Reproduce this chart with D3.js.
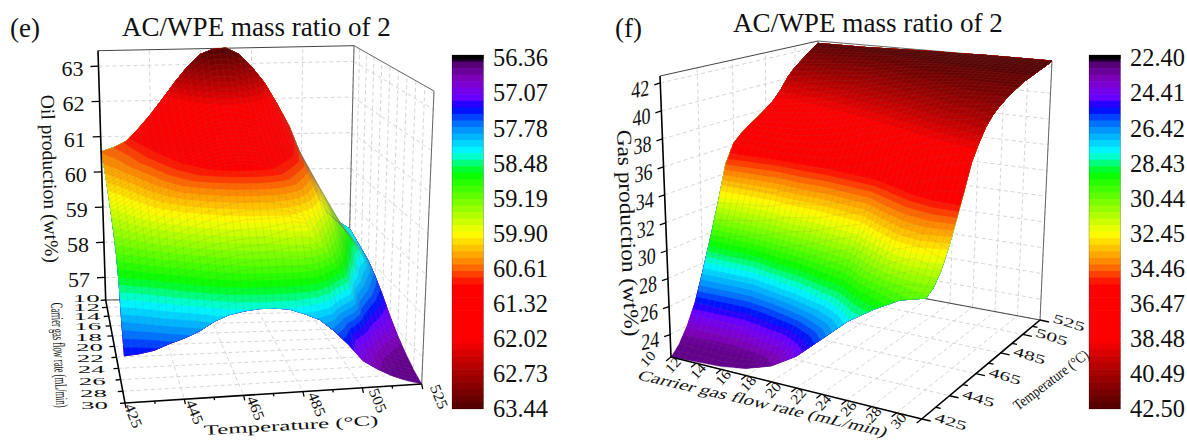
<!DOCTYPE html>
<html lang="en">
<head>
<meta charset="UTF-8">
<title>AC/WPE mass ratio of 2</title>
<script src="https://cdnjs.cloudflare.com/ajax/libs/d3/7.8.5/d3.min.js"></script>
<style>
  html, body { margin: 0; background: #fff; }
  text { font-family: "Liberation Serif", serif; fill: #111; }
</style>
</head>
<body>
<div id="chart"></div>
<script>
// data
const tempGrid = [425, 430, 435, 440, 445, 450, 455, 460, 465, 470, 475, 480, 485, 490, 495, 500, 505, 510, 515, 520, 525]
const flowGrid = [10, 12, 14, 16, 18, 20, 22, 24, 26, 28, 30]
const tempTicks = [425, 445, 465, 485, 505, 525]
const tempMinor = [435, 455, 475, 495, 515]
const oilTicks = [57, 58, 59, 60, 61, 62, 63]
const gasTicks = [24, 26, 28, 30, 32, 34, 36, 38, 40, 42]
const oilBar = ['56.36', '57.07', '57.78', '58.48', '59.19', '59.90', '60.61', '61.32', '62.02', '62.73', '63.44']
const gasBar = ['22.40', '24.41', '26.42', '28.43', '30.44', '32.45', '34.46', '36.47', '38.48', '40.49', '42.50']

// one row per flow rate, one column per temperature
const oilValues = [
  [60.57, 60.68, 60.85, 61.20, 61.60, 62.05, 62.52, 62.95, 63.28, 63.42, 63.44, 63.26, 62.90, 62.45, 61.85, 61.20, 60.35, 59.50, 58.80, 58.52, 58.30],
  [60.50, 60.60, 60.78, 61.05, 61.36, 61.74, 62.14, 62.50, 62.78, 62.92, 62.92, 62.76, 62.46, 62.06, 61.55, 60.98, 60.25, 59.50, 58.85, 58.50, 58.20],
  [60.35, 60.50, 60.68, 60.90, 61.12, 61.42, 61.74, 62.02, 62.22, 62.32, 62.30, 62.18, 61.94, 61.62, 61.22, 60.78, 60.15, 59.48, 58.88, 58.48, 58.08],
  [60.15, 60.35, 60.58, 60.80, 61.00, 61.20, 61.42, 61.62, 61.78, 61.86, 61.84, 61.74, 61.55, 61.30, 61.00, 60.66, 60.02, 59.42, 58.86, 58.42, 57.95],
  [59.90, 60.10, 60.35, 60.60, 60.85, 61.05, 61.22, 61.38, 61.50, 61.56, 61.55, 61.46, 61.30, 61.10, 60.85, 60.50, 59.92, 59.32, 58.76, 58.28, 57.72],
  [59.65, 59.85, 60.10, 60.38, 60.66, 60.90, 61.05, 61.18, 61.27, 61.30, 61.28, 61.20, 61.05, 60.85, 60.55, 60.15, 59.65, 58.95, 58.30, 57.85, 57.44],
  [59.40, 59.58, 59.80, 60.05, 60.30, 60.58, 60.80, 60.95, 61.05, 61.10, 61.08, 61.00, 60.82, 60.55, 60.20, 59.78, 59.25, 58.60, 57.95, 57.50, 57.12],
  [59.10, 59.22, 59.38, 59.55, 59.72, 59.88, 60.02, 60.15, 60.26, 60.32, 60.32, 60.28, 60.18, 60.02, 59.80, 59.38, 58.85, 57.95, 57.45, 57.12, 56.85],
  [58.62, 58.74, 58.88, 59.02, 59.14, 59.28, 59.40, 59.50, 59.56, 59.60, 59.62, 59.72, 59.85, 59.85, 59.50, 58.95, 58.30, 57.45, 56.98, 56.78, 56.64],
  [57.90, 58.02, 58.18, 58.35, 58.52, 58.68, 58.82, 58.94, 59.02, 59.06, 59.08, 59.10, 59.10, 59.00, 58.60, 57.85, 57.25, 56.95, 56.72, 56.58, 56.48],
  [57.41, 57.44, 57.50, 57.63, 57.74, 57.88, 58.09, 58.23, 58.30, 58.34, 58.34, 58.30, 58.18, 58.03, 57.75, 57.40, 57.00, 56.78, 56.60, 56.46, 56.36]
]
const gasValues = [
  [22.40, 23.00, 24.00, 25.40, 27.40, 29.60, 32.00, 34.70, 36.10, 36.70, 37.15, 37.55, 38.00, 38.50, 39.20, 40.10, 40.75, 41.20, 41.65, 42.00, 42.30],
  [22.50, 22.95, 23.90, 25.30, 27.40, 30.05, 32.20, 34.45, 36.00, 36.65, 37.20, 37.80, 38.30, 38.85, 39.60, 40.40, 41.00, 41.40, 41.80, 42.10, 42.30],
  [22.60, 22.90, 23.80, 25.20, 27.40, 30.50, 32.40, 34.20, 35.90, 36.60, 37.30, 38.00, 38.60, 39.20, 40.00, 40.70, 41.20, 41.60, 41.90, 42.15, 42.30],
  [22.90, 23.10, 24.40, 26.10, 29.10, 31.10, 33.00, 34.70, 35.95, 36.80, 37.65, 38.40, 38.95, 39.70, 40.20, 40.85, 41.30, 41.70, 42.05, 42.20, 42.35],
  [23.50, 23.90, 25.20, 27.60, 29.85, 31.50, 33.15, 34.75, 36.10, 37.20, 38.20, 38.85, 39.50, 40.15, 40.70, 41.20, 41.60, 42.00, 42.15, 42.30, 42.40],
  [24.60, 25.40, 26.90, 29.20, 30.60, 32.15, 33.70, 35.20, 36.60, 38.05, 38.70, 39.30, 40.00, 40.60, 41.10, 41.55, 41.90, 42.10, 42.25, 42.35, 42.45],
  [26.20, 27.00, 28.50, 29.95, 31.20, 32.70, 34.20, 35.60, 37.55, 38.55, 39.25, 39.85, 40.50, 41.00, 41.40, 41.75, 42.05, 42.20, 42.30, 42.40, 42.45],
  [27.80, 29.00, 30.35, 31.40, 33.00, 34.30, 35.45, 37.20, 38.40, 39.10, 39.85, 40.45, 40.95, 41.35, 41.65, 41.90, 42.10, 42.25, 42.35, 42.40, 42.50],
  [29.00, 30.10, 31.50, 33.10, 34.20, 35.35, 36.90, 38.20, 39.00, 39.80, 40.40, 40.90, 41.30, 41.60, 41.85, 42.00, 42.15, 42.30, 42.38, 42.45, 42.50],
  [30.00, 30.75, 32.20, 33.60, 34.70, 36.00, 37.60, 38.65, 39.40, 40.10, 40.65, 41.05, 41.40, 41.65, 41.85, 42.02, 42.18, 42.30, 42.38, 42.45, 42.50],
  [30.50, 30.85, 31.65, 32.90, 34.50, 36.20, 38.00, 39.10, 40.00, 40.60, 41.00, 41.30, 41.55, 41.75, 41.95, 42.05, 42.15, 42.25, 42.33, 42.42, 42.50]
]

// colour map, position along the bar from top to bottom
const colourStops = [0, 0.012, 0.02, 0.07, 0.118, 0.15, 0.2, 0.275, 0.335, 0.42, 0.505, 0.59, 0.65, 0.805, 0.87, 1]
const colourValues = ['#000000', '#200030', '#50006a', '#8000c0', '#7000ff', '#0000ff', '#0080ff', '#00ffff', '#00ff00', '#80ff00', '#ffff00', '#ff8000', '#ff0000', '#ff0000', '#c00000', '#500000']
const colour = d3.scaleLinear().domain(colourStops).range(colourValues)
const levels = 54

const svg = d3.select('#chart').append('svg')
  .attr('width', 1187).attr('height', 443)
  .style('display', 'block')

// o.len squeezes or stretches the text to that length with a scale, like the figure
function label(g, str, x, y, o) {
  o = o || {}
  const t = g.append('text')
    .attr('font-size', o.size || 22)
    .attr('text-anchor', o.anchor || 'start')
    .text(str)
  const sx = o.len ? o.len / t.node().getComputedTextLength() : 1
  t.attr('transform', `translate(${x},${y}) ${o.tf || ''} scale(${sx},1)`)
  return t
}

function drawPanel(cfg) {
  const g = svg.append('g')
  const [zMin, zMax] = cfg.zDomain
  const tNorm = d3.scaleLinear().domain([425, 525]).range([0, 1])
  const fNorm = d3.scaleLinear().domain([10, 30]).range([0, 1])
  const zNorm = d3.scaleLinear().domain([zMin, zMax]).range([0, 1])
  const c = cfg.corners
  const lerp = (a, b, k) => [a[0] + (b[0] - a[0]) * k, a[1] + (b[1] - a[1]) * k]

  // box corners named by temperature end, flow end, z end
  function project(T, F, z) {
    const a = cfg.tWarp(tNorm(T)), b = cfg.fWarp(fNorm(F)), w = zNorm(z)
    const back = lerp(lerp(c.t0f0z0, c.t1f0z0, a), lerp(c.t0f0z1, c.t1f0z1, a), w)
    const front = lerp(lerp(c.t0f1z0, c.t1f1z0, a), lerp(c.t0f1z1, c.t1f1z1, a), w)
    return lerp(back, front, b)
  }
  const line = d3.line()
  const seg = (p, q, stroke, width, dash) => g.append('path')
    .attr('d', line([p, q])).attr('fill', 'none')
    .attr('stroke', stroke).attr('stroke-width', width)
    .attr('stroke-dasharray', dash || null)

  // dashed grid on the walls and floor
  const gridCol = '#d6d6d6'
  tempTicks.forEach(T => {
    seg(project(T, 10, zMin), project(T, 30, zMin), gridCol, 1, '4 3')
    seg(project(T, 10, zMin), project(T, 10, zMax), gridCol, 1, '4 3')
  })
  flowGrid.forEach(F => {
    seg(project(425, F, zMin), project(525, F, zMin), gridCol, 1, '4 3')
    seg(project(525, F, zMin), project(525, F, zMax), gridCol, 1, '4 3')
  })
  cfg.zTicks.forEach(z => {
    seg(project(425, 10, z), project(525, 10, z), gridCol, 1, '4 3')
    seg(project(525, 10, z), project(525, 30, z), gridCol, 1, '4 3')
  })

  // thin box edges
  seg(project(425, 10, zMin), project(525, 10, zMin), '#444', 1)
  seg(project(525, 10, zMin), project(525, 30, zMin), '#444', 1)
  seg(project(425, 10, zMax), project(525, 10, zMax), '#444', 1)
  seg(project(525, 10, zMax), project(525, 30, zMax), '#666', 1)
  seg(project(525, 10, zMax), project(525, 10, zMin), '#666', 1)
  seg(project(525, 30, zMax), project(525, 30, zMin), '#666', 1)

  // surface: filled bands from d3.contours, each vertex lifted into the box
  const nx = tempGrid.length, ny = flowGrid.length
  const flat = cfg.values.flat()
  const tAt = d3.scaleLinear().domain(d3.range(nx)).range(tempGrid)
  const fAt = d3.scaleLinear().domain(d3.range(ny)).range(flowGrid)
  function surfacePoint(x, y) {
    const i = Math.max(0, Math.min(nx - 1, x - 0.5))
    const j = Math.max(0, Math.min(ny - 1, y - 0.5))
    const i0 = Math.min(nx - 2, Math.floor(i)), j0 = Math.min(ny - 2, Math.floor(j))
    const di = i - i0, dj = j - j0, v = cfg.values
    const z = (v[j0][i0] * (1 - di) + v[j0][i0 + 1] * di) * (1 - dj) +
              (v[j0 + 1][i0] * (1 - di) + v[j0 + 1][i0 + 1] * di) * dj
    return project(tAt(i), fAt(j), z)
  }
  const lift = d3.geoPath(d3.geoTransform({
    point(x, y) { const p = surfacePoint(x, y); this.stream.point(p[0], p[1]) }
  }))
  const thresholds = d3.range(levels).map(i => zMin + (zMax - zMin) * i / levels)
  const bands = d3.contours().size([nx, ny]).thresholds(thresholds)(flat)
  const bandColour = (d, i) => colour(Math.max(0.04, (i + 0.5) / levels))
  g.append('g').selectAll('path').data(bands).enter().append('path')
    .attr('d', d => lift(d))
    .attr('fill', bandColour)
    .attr('stroke', bandColour)
    .attr('stroke-width', 0.3)

  // mesh lines on the surface, every half column and quarter row of the table
  const mesh = g.append('g').attr('fill', 'none').attr('stroke', '#777').attr('stroke-opacity', 0.26).attr('stroke-width', 0.5)
  const colSteps = d3.range(0, nx - 0.9, 0.5), rowSteps = d3.range(0, ny - 0.9, 0.25)
  rowSteps.forEach(j => {
    mesh.append('path').attr('d', line(colSteps.map(i => surfacePoint(i + 0.5, j + 0.5))))
  })
  colSteps.forEach(i => {
    mesh.append('path').attr('d', line(rowSteps.map(j => surfacePoint(i + 0.5, j + 0.5))))
  })

  // black axes
  seg(project(425, 10, zMin), project(425, 10, zMax), '#000', 1.6)
  seg(project(425, 10, zMin), project(425, 30, zMin), '#000', 1.6)
  seg(project(425, 30, zMin), project(525, 30, zMin), '#000', 1.6)

  const tick = (p, d, k) => seg(p, [p[0] + d[0] * k, p[1] + d[1] * k], '#000', 1.3)
  cfg.zTicks.forEach(z => {
    const p = project(425, 10, z)
    tick(p, cfg.zTickDir, 1)
    cfg.zLabel(g, z, p)
  })
  flowGrid.forEach((F, i) => {
    const p = project(425, F, zMin)
    tick(p, cfg.fTickDir, 1)
    cfg.fLabel(g, F, p, i)
  })
  tempTicks.forEach((T, i) => {
    const p = project(T, 30, zMin)
    tick(p, cfg.tTickDir, 1)
    cfg.tLabel(g, T, p, i)
  })
  tempMinor.forEach(T => tick(project(T, 30, zMin), cfg.tTickDir, 0.55))

  // colour bar
  const y = d3.scaleLinear().domain([0, 1]).range([55, 408.5])
  g.append('g').selectAll('rect').data(d3.range(levels)).enter().append('rect')
    .attr('x', cfg.barX).attr('width', 31.5)
    .attr('y', d => y(d / levels))
    .attr('height', d => y((d + 1) / levels) - y(d / levels) + 0.6)
    .attr('fill', d => colour((d + 0.5) / levels))
  g.append('rect').attr('x', cfg.barX).attr('width', 31.5).attr('y', 55).attr('height', 4).attr('fill', '#000')
  g.append('rect').attr('x', cfg.barX).attr('width', 31.5).attr('y', 55).attr('height', 353.5)
    .attr('fill', 'none').attr('stroke', '#000').attr('stroke-opacity', 0.22)

  const barLabels = d3.scalePoint().domain(cfg.barLabels).range([58, 409])
  const ax = g.append('g').attr('transform', `translate(${cfg.barX + 41},0)`)
    .call(d3.axisRight(barLabels).tickSize(0).tickPadding(0))
  ax.select('.domain').remove()
  ax.selectAll('text').attr('font-size', 24.4).attr('font-family', '"Liberation Serif", serif').attr('fill', '#111')

  cfg.texts(g)
}

const powE = d3.scalePow().exponent(1.15).domain([0, 1]).range([0, 1])
const powF = d3.scalePow().exponent(1.2).domain([0, 1]).range([1, 0])

drawPanel({
  values: oilValues,
  zDomain: [56.36, 63.44],
  zTicks: oilTicks,
  barLabels: oilBar,
  barX: 452,
  tWarp: k => k,
  fWarp: k => powE(k),
  corners: {
    t0f0z0: [105.7, 300], t0f0z1: [98, 50.7],
    t1f0z0: [348, 298], t1f0z1: [354, 45.7],
    t0f1z0: [125, 403], t0f1z1: [121, 85],
    t1f1z0: [421.7, 384], t1f1z1: [434, 91]
  },
  zTickDir: [-8, 0.3],
  fTickDir: [-5, 0.3],
  tTickDir: [1, 5],
  zLabel: (g, z, p) => label(g, z, p[0] - 15, p[1] + 10, { anchor: 'end', size: 22 }),
  fLabel: (g, F, p, i) => label(g, F, p[0] - 6 - i * 1.1, p[1] + 4 + i * 0.15 - (i === 0 ? 2.5 : 0), { anchor: 'end', size: 9.5, len: 27 }),
  tLabel: (g, T, p, i) => label(g, T, p[0] - 1 + i * 1.8, p[1] + 3, { size: 15, len: 25, tf: 'rotate(68)' }),
  texts: g => {
    label(g, '(e)', 10, 37, { size: 27 })
    label(g, 'AC/WPE mass ratio of 2', 122, 36, { size: 27, len: 269 })
    label(g, 'Oil production (wt%)', 41, 95, { size: 19.5, len: 168, tf: 'rotate(88.5)' })
    label(g, 'Carrier gas flow rate (mL/min)', 51, 303, { size: 17, len: 105, tf: 'rotate(87)' })
    label(g, 'Temperature (°C)', 204, 435, { size: 14, len: 175, tf: 'rotate(-3.3)' })
  }
})

drawPanel({
  values: gasValues,
  zDomain: [22.4, 42.5],
  zTicks: gasTicks,
  barLabels: gasBar,
  barX: 1089,
  tWarp: k => powF(1 - k),
  fWarp: k => k,
  corners: {
    t0f0z0: [671, 357], t0f0z1: [660, 76],
    t1f0z0: [815, 278], t1f0z1: [818, 41],
    t0f1z0: [921.7, 419], t0f1z1: [932, 119],
    t1f1z0: [1040, 320], t1f1z1: [1052, 61]
  },
  zTickDir: [-6, 2],
  fTickDir: [-5, 4],
  tTickDir: [9, 2],
  zLabel: (g, z, p) => label(g, z, p[0] - 11, p[1] + 12, { anchor: 'end', size: 23, len: 18, tf: 'skewY(-12)' }),
  fLabel: (g, F, p) => label(g, F, p[0] - 25, p[1] + 11, { size: 14, len: 16, tf: 'rotate(-48)' }),
  tLabel: (g, T, p) => label(g, T, p[0] + 12, p[1] + 2, { size: 13, len: 33, tf: 'rotate(17)' }),
  texts: g => {
    label(g, '(f)', 615, 37, { size: 27 })
    label(g, 'AC/WPE mass ratio of 2', 733, 32, { size: 27, len: 270 })
    label(g, 'Gas production (wt%)', 617, 130, { size: 21, len: 207, tf: 'rotate(87.8)' })
    label(g, 'Carrier gas flow rate (mL/min)', 636, 379, { size: 15, len: 255, tf: 'rotate(13.1) skewX(-20)' })
    label(g, 'Temperature (°C)', 1018, 411, { size: 15, len: 90, tf: 'rotate(-37)' })
  }
})
</script>
</body>
</html>
